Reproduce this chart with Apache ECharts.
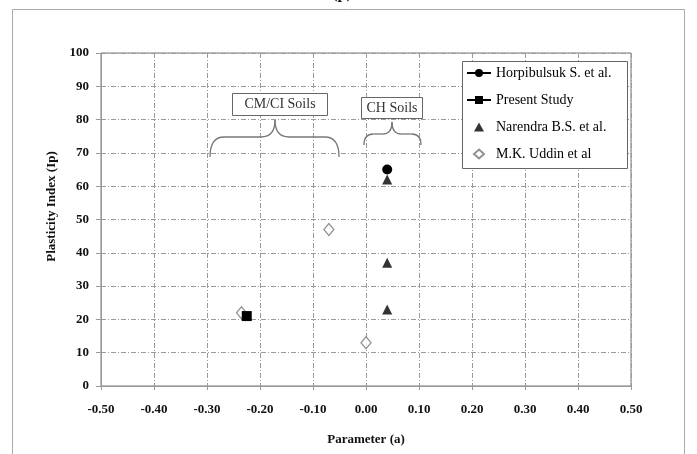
<!DOCTYPE html>
<html>
<head>
<meta charset="utf-8">
<script src="https://cdn.jsdelivr.net/npm/echarts@6/dist/echarts.min.js"></script>
<style>
html, body { margin: 0; padding: 0; background: #fff; }
#main { width: 697px; height: 454px; }
</style>
</head>
<body>
<div id="main"></div>
<script>
// values
var horpX = [0.04];
var horpY = [65];
var presentX = [-0.225];
var presentY = [21];
var narendraX = [0.04, 0.04, 0.04];
var narendraY = [62, 37, 23];
var uddinX = [-0.235, -0.07, 0.0];
var uddinY = [22, 47, 13];
var seriesNames = ['Horpibulsuk S. et al.', 'Present Study', 'Narendra B.S. et al.', 'M.K. Uddin et al'];

var serif = '"Liberation Serif", "DejaVu Serif", serif';

function pairs(xs, ys) {
	var out = [];
	for (var i = 0; i < xs.length; i += 1) {
		out.push([xs[i], ys[i]]);
	}
	return out;
}

// curly brace: ends at yEnd, flat part at yMid, tip at yTip
function brace(x0, x1, xt, yEnd, yMid, yTip) {
	var st = { fill: null, stroke: '#777', lineWidth: 1.3 };
	var r = Math.min(14, (xt - x0) / 3);
	var c = function(sx, sy, cx, cy, ex, ey) {
		return { type: 'bezierCurve', shape: { x1: sx, y1: sy, cpx1: cx, cpy1: cy, x2: ex, y2: ey }, style: st, z: 10 };
	};
	var l = function(sx, sy, ex, ey) {
		return { type: 'line', shape: { x1: sx, y1: sy, x2: ex, y2: ey }, style: st, z: 10 };
	};
	return [
		c(x0, yEnd, x0, yMid, x0 + r, yMid),
		l(x0 + r, yMid, xt - r, yMid),
		c(xt - r, yMid, xt, yMid, xt, yTip),
		c(xt, yTip, xt, yMid, xt + r, yMid),
		l(xt + r, yMid, x1 - r, yMid),
		c(x1 - r, yMid, x1, yMid, x1, yEnd)
	];
}

var gridDash = {
	color: '#9a9a9a',
	width: 1,
	type: [5, 2, 1, 2]
};

var legendText = {
	fontFamily: serif,
	fontSize: 14,
	color: '#000'
};

var graphics = [{
	type: 'rect',
	shape: { x: 12.5, y: 9.5, width: 672, height: 470 },
	style: { fill: null, stroke: '#aaa', lineWidth: 1 },
	silent: true,
	z: -10
}, {
	type: 'text',
	x: 342,
	y: -6,
	style: { text: '(p)', font: 'bold 16px ' + serif, fill: '#111', align: 'center', verticalAlign: 'middle' }
}, {
	// legend frame
	type: 'rect',
	shape: { x: 462.5, y: 61.5, width: 165, height: 107 },
	style: { fill: '#fff', stroke: '#666', lineWidth: 1 },
	z: 20
}, {
	type: 'rect',
	shape: { x: 232.5, y: 93.5, width: 95, height: 22 },
	style: { fill: '#fff', stroke: '#666', lineWidth: 1 },
	z: 10
}, {
	type: 'text',
	x: 280,
	y: 104.5,
	style: { text: 'CM/CI Soils', font: '14px ' + serif, fill: '#333', align: 'center', verticalAlign: 'middle' },
	z: 11
}, {
	type: 'rect',
	shape: { x: 361.5, y: 97.5, width: 61, height: 21 },
	style: { fill: '#fff', stroke: '#666', lineWidth: 1 },
	z: 10
}, {
	type: 'text',
	x: 392,
	y: 108,
	style: { text: 'CH Soils', font: '14px ' + serif, fill: '#333', align: 'center', verticalAlign: 'middle' },
	z: 11
}];
graphics = graphics.concat(brace(210, 339, 275, 157, 137, 120));
graphics = graphics.concat(brace(364, 421, 392, 145, 134, 122));

var chart = echarts.init(document.getElementById('main'), null, { renderer: 'canvas' });
chart.setOption({
	backgroundColor: '#fff',
	animation: false,
	textStyle: { fontFamily: serif },
	grid: {
		left: 101,
		right: 66,
		top: 53,
		bottom: 68,
		show: true,
		borderColor: '#777',
		borderWidth: 1
	},
	legend: [{
		orient: 'vertical',
		left: 466,
		top: 66,
		padding: 0,
		itemGap: 13,
		itemWidth: 24,
		itemHeight: 10,
		z: 30,
		textStyle: legendText,
		data: [seriesNames[0], seriesNames[1]]
	}, {
		orient: 'vertical',
		left: 473,
		top: 120,
		padding: 0,
		itemGap: 13,
		itemWidth: 10,
		itemHeight: 9,
		z: 30,
		textStyle: legendText,
		data: [
			{ name: seriesNames[2], textStyle: { padding: [0, 0, 0, 7] } },
			{ name: seriesNames[3], textStyle: { padding: [0, 0, 0, 7] } }
		]
	}],
	xAxis: {
		type: 'value',
		min: -0.5,
		max: 0.5,
		interval: 0.1,
		name: 'Parameter (a)',
		nameLocation: 'middle',
		nameGap: 47,
		nameTextStyle: { fontFamily: serif, fontSize: 13, fontWeight: 'bold', color: '#111' },
		axisLine: { show: true, onZero: false, lineStyle: { color: '#999', width: 1 } },
		axisTick: { show: true, length: 4, lineStyle: { color: '#999' } },
		axisLabel: {
			margin: 17,
			fontFamily: serif,
			fontSize: 13,
			fontWeight: 'bold',
			color: '#111',
			formatter: function(v) {
				return v.toFixed(2);
			}
		},
		splitLine: { show: true, lineStyle: gridDash }
	},
	yAxis: {
		type: 'value',
		min: 0,
		max: 100,
		interval: 10,
		name: 'Plasticity Index (Ip)',
		nameLocation: 'middle',
		nameGap: 41,
		nameTextStyle: { fontFamily: serif, fontSize: 13, fontWeight: 'bold', color: '#111', padding: [0, 0, 0, 26] },
		axisLine: { show: true, onZero: false, lineStyle: { color: '#999', width: 1 } },
		axisTick: { show: true, length: 5, lineStyle: { color: '#999' } },
		axisLabel: {
			margin: 12,
			fontFamily: serif,
			fontSize: 13,
			fontWeight: 'bold',
			color: '#111'
		},
		splitLine: { show: true, lineStyle: gridDash }
	},
	series: [{
		name: seriesNames[0],
		type: 'line',
		data: pairs(horpX, horpY),
		symbol: 'circle',
		symbolSize: 10,
		itemStyle: { color: '#000' },
		lineStyle: { color: '#000', width: 2 },
		z: 5
	}, {
		name: seriesNames[1],
		type: 'line',
		data: pairs(presentX, presentY),
		symbol: 'rect',
		symbolSize: 10,
		itemStyle: { color: '#000' },
		lineStyle: { color: '#000', width: 2 },
		z: 5
	}, {
		name: seriesNames[2],
		type: 'scatter',
		data: pairs(narendraX, narendraY),
		symbol: 'triangle',
		symbolSize: 10,
		itemStyle: { color: '#000' },
		z: 4
	}, {
		name: seriesNames[3],
		type: 'scatter',
		data: pairs(uddinX, uddinY),
		symbol: 'diamond',
		symbolSize: [10, 12],
		itemStyle: { color: '#fff', borderColor: '#777', borderWidth: 1.3 },
		z: 3
	}],
	graphic: graphics
});
</script>
</body>
</html>
